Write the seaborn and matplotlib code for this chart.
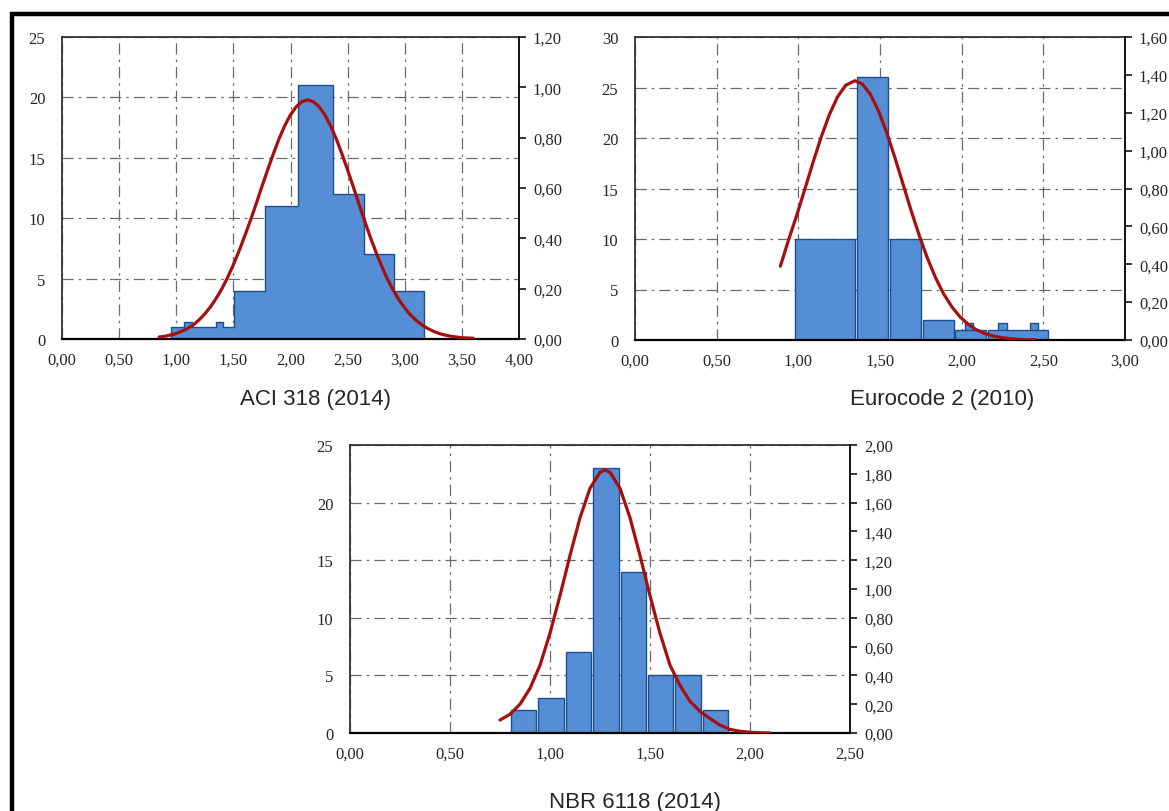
import numpy as np
import matplotlib
matplotlib.use("Agg")
import matplotlib.pyplot as plt
import matplotlib.patches as mpatches
from matplotlib.ticker import FuncFormatter, MultipleLocator
import seaborn as sns

sns.set_style("white")
plt.rcParams["font.family"] = ["Liberation Serif", "DejaVu Serif"]

# ACI 318 (2014) histogram (bin edges / counts) and fitted curve (right axis)
aci_edges = [0.95, 1.07, 1.135, 1.348, 1.412, 1.508, 1.78, 2.07, 2.37, 2.64, 2.91, 3.17]
aci_counts = [1, 1.4, 1, 1.4, 1, 4, 11, 21, 12, 7, 4]
aci_curve_x = [0.85, 0.90, 0.95, 1.00, 1.05, 1.10, 1.15, 1.20, 1.25, 1.30, 1.35, 1.40, 1.45, 1.50,
               1.55, 1.60, 1.65, 1.70, 1.75, 1.80, 1.85, 1.90, 1.95, 2.00, 2.05, 2.10, 2.15, 2.20,
               2.25, 2.30, 2.35, 2.40, 2.45, 2.50, 2.55, 2.60, 2.65, 2.70, 2.75, 2.80, 2.85, 2.90,
               2.95, 3.00, 3.05, 3.10, 3.15, 3.20, 3.25, 3.30, 3.35, 3.40, 3.45, 3.50, 3.55, 3.60]
aci_curve_y = [0.008, 0.011, 0.016, 0.022, 0.031, 0.042, 0.056, 0.076, 0.100, 0.128, 0.162, 0.200, 0.245, 0.295,
               0.350, 0.410, 0.472, 0.538, 0.606, 0.672, 0.736, 0.796, 0.848, 0.891, 0.923, 0.943, 0.950, 0.943,
               0.923, 0.891, 0.848, 0.796, 0.736, 0.671, 0.604, 0.535, 0.468, 0.403, 0.343, 0.287, 0.237, 0.193,
               0.155, 0.123, 0.096, 0.074, 0.056, 0.042, 0.031, 0.022, 0.016, 0.011, 0.008, 0.005, 0.004, 0.003]

# Eurocode 2 (2010)
ec_edges = [0.97, 1.357, 1.557, 1.757, 1.957, 2.152, 2.54]
ec_counts = [10, 26, 10, 2, 1, 1]
ec_bump_edges = [2.02, 2.07, 2.225, 2.275, 2.42, 2.47]
ec_bump_counts = [1.7, 0, 1.7, 0, 1.7]
ec_curve_x = [0.89, 0.94, 0.99, 1.04, 1.09, 1.14, 1.19, 1.24, 1.29, 1.345, 1.39, 1.44, 1.49,
              1.54, 1.59, 1.64, 1.69, 1.74, 1.79, 1.84, 1.89, 1.94, 1.99, 2.04, 2.09, 2.14,
              2.19, 2.24, 2.29, 2.34, 2.39, 2.45]
ec_curve_y = [0.390, 0.528, 0.658, 0.797, 0.938, 1.072, 1.190, 1.284, 1.345, 1.369, 1.353, 1.299, 1.211,
              1.098, 0.966, 0.826, 0.685, 0.553, 0.433, 0.329, 0.243, 0.175, 0.122, 0.083, 0.054, 0.035,
              0.022, 0.013, 0.008, 0.004, 0.002, 0.001]

# NBR 6118 (2014)
nbr_edges = [0.80, 0.937, 1.074, 1.211, 1.348, 1.485, 1.622, 1.759, 1.896]
nbr_counts = [2, 3, 7, 23, 14, 5, 5, 2]
nbr_curve_x = [0.75, 0.80, 0.85, 0.90, 0.95, 1.00, 1.05, 1.10, 1.15, 1.20, 1.25, 1.275, 1.30,
               1.35, 1.40, 1.45, 1.50, 1.55, 1.60, 1.65, 1.70, 1.75, 1.80, 1.85, 1.90, 1.95,
               2.00, 2.05, 2.10]
nbr_curve_y = [0.090, 0.130, 0.200, 0.310, 0.470, 0.693, 0.954, 1.233, 1.495, 1.699, 1.811, 1.826, 1.811,
               1.699, 1.495, 1.233, 0.954, 0.693, 0.471, 0.330, 0.220, 0.150, 0.100, 0.055, 0.025, 0.012,
               0.005, 0.002, 0.000]

BAR = "#558ED5"
EDGE = "#1F4E8C"
RED = "#A50F0F"

comma2 = FuncFormatter(lambda v, p: f"{v:.2f}".replace(".", ","))
intfmt = FuncFormatter(lambda v, p: f"{v:.0f}")


def mids(edges):
    e = np.asarray(edges)
    return (e[:-1] + e[1:]) / 2


def panel(rect, xmax, ymax, ystep, rmax, rstep, title, title_xy):
    ax = fig.add_axes(rect)
    ax.set_xlim(0, xmax)
    ax.set_ylim(0, ymax)
    ax.xaxis.set_major_locator(MultipleLocator(0.5))
    ax.yaxis.set_major_locator(MultipleLocator(ystep))
    ax.xaxis.set_major_formatter(comma2)
    ax.yaxis.set_major_formatter(intfmt)
    ax.grid(True, color="#6a6a6a", lw=0.9, linestyle=(0, (9, 4, 2, 4)))
    ax.set_axisbelow(True)
    ax.tick_params(axis="both", length=0, labelsize=12)
    ax.tick_params(axis="y", pad=12)
    ax.tick_params(axis="x", pad=9)
    for s in ["top", "left"]:
        ax.spines[s].set_color("#333333")
        ax.spines[s].set_linewidth(1.3)
    ax.spines["bottom"].set_color("black")
    ax.spines["bottom"].set_linewidth(1.6)
    ax.spines["right"].set_visible(False)

    ax2 = ax.twinx()
    ax2.set_ylim(0, rmax)
    ax2.yaxis.set_major_locator(MultipleLocator(rstep))
    ax2.yaxis.set_major_formatter(comma2)
    ax2.tick_params(axis="y", direction="out", length=5, width=1.3, labelsize=12, pad=5)
    for s in ["top", "left", "bottom"]:
        ax2.spines[s].set_visible(False)
    ax2.spines["right"].set_color("black")
    ax2.spines["right"].set_linewidth(1.3)
    ax2.grid(False)
    fig.text(title_xy[0], title_xy[1], title, ha="center", va="center",
             fontsize=16, family=["Liberation Sans", "DejaVu Sans"])
    return ax, ax2


W, H = 1169, 812
fig = plt.figure(figsize=(W / 100, H / 100), dpi=100)

# outer frame
fig.patches.append(mpatches.Rectangle((12 / W, -0.05), 1.2, 1 - 15 / H + 0.05,
                                      transform=fig.transFigure, fill=False,
                                      edgecolor="black", linewidth=3.2))

# ACI 318
ax1, r1 = panel([62 / W, 1 - 340 / H, 457 / W, 302 / H], 4.0, 25, 5, 1.2, 0.2,
                "ACI 318 (2014)", (316 / W, 1 - 400 / H))
sns.histplot(x=mids(aci_edges), weights=aci_counts, bins=aci_edges, element="step",
             fill=True, color=BAR, alpha=1, edgecolor=EDGE, linewidth=1.0, ax=ax1)
sns.lineplot(x=aci_curve_x, y=aci_curve_y, color=RED, lw=2.3, ax=r1)

# Eurocode 2
ax2, r2 = panel([635 / W, 1 - 341 / H, 490 / W, 303 / H], 3.0, 30, 5, 1.6, 0.2,
                "Eurocode 2 (2010)", (942 / W, 1 - 400 / H))
sns.histplot(x=mids(ec_bump_edges), weights=ec_bump_counts, bins=ec_bump_edges,
             element="bars", color=BAR, alpha=1, edgecolor=EDGE, linewidth=1.0, ax=ax2)
sns.histplot(x=mids(ec_edges), weights=ec_counts, bins=ec_edges, element="bars",
             shrink=0.95, color=BAR, alpha=1, edgecolor=EDGE, linewidth=1.0, ax=ax2)
sns.lineplot(x=ec_curve_x, y=ec_curve_y, color=RED, lw=2.3, ax=r2)

# NBR 6118
ax3, r3 = panel([350 / W, 1 - 734 / H, 500 / W, 288 / H], 2.5, 25, 5, 2.0, 0.2,
                "NBR 6118 (2014)", (635 / W, 1 - 803 / H))
sns.histplot(x=mids(nbr_edges), weights=nbr_counts, bins=nbr_edges, element="bars",
             shrink=0.93, color=BAR, alpha=1, edgecolor=EDGE, linewidth=1.0, ax=ax3)
sns.lineplot(x=nbr_curve_x, y=nbr_curve_y, color=RED, lw=2.3, ax=r3)

for a in (ax1, ax2, ax3):
    a.set_xlabel("")
    a.set_ylabel("")
for r in (r1, r2, r3):
    r.set_ylabel("")

fig.savefig("out.png", dpi=100)
